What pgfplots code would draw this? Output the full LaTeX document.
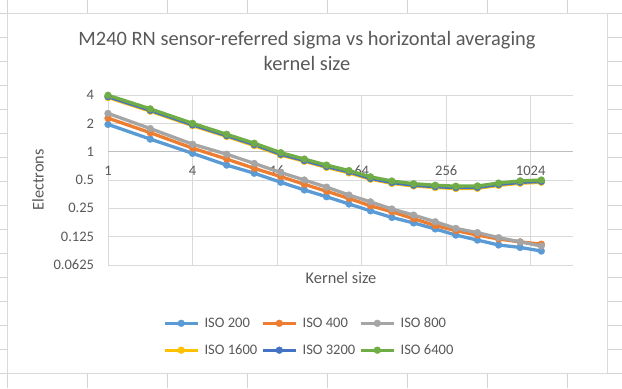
\documentclass[border=0pt]{standalone}
\usepackage{pgfplots}
\pgfplotsset{compat=1.18}
\usepackage{fontspec}
\setmainfont{Carlito}
\definecolor{txt}{HTML}{595959}
\definecolor{grd}{HTML}{D9D9D9}
\definecolor{cell}{HTML}{D4D4D4}
\definecolor{axl}{HTML}{BFBFBF}
\definecolor{c200}{HTML}{5B9BD5}
\definecolor{c400}{HTML}{ED7D31}
\definecolor{c800}{HTML}{A5A5A5}
\definecolor{c1600}{HTML}{FFC000}
\definecolor{c3200}{HTML}{4472C4}
\definecolor{c6400}{HTML}{70AD47}
\begin{document}
\begin{tikzpicture}[x=1bp,y=1bp]
\path[use as bounding box] (0,0) rectangle (622,388);
\fill[white] (0,0) rectangle (622,388);
\foreach \cx in {7.3,87.35,167.4,247.45,327.5,407.55,487.6,567.65} \draw[cell,line width=1bp] (\cx,0) -- (\cx,388);
\foreach \k in {0,...,15} \draw[cell,line width=1bp] (0,{374.7-24*\k}) -- (622,{374.7-24*\k});
\filldraw[fill=white,draw=grd,line width=1bp] (7.3,374.7) rectangle (607.3,14.7);
\node[anchor=base,text=txt,font=\fontsize{20.5}{24}\selectfont] at (307,343) {M240 RN sensor-referred sigma vs horizontal averaging};
\node[anchor=base,text=txt,font=\fontsize{20.5}{24}\selectfont] at (307,318) {kernel size};
\node[anchor=base,text=txt,font=\fontsize{16.4}{19}\selectfont] at (341,104.7) {Kernel size};
\node[anchor=base,rotate=90,text=txt,font=\fontsize{16.4}{19}\selectfont] at (43.5,208) {Electrons};
\begin{axis}[
 at={(108bp,123bp)}, anchor=south west, scale only axis, width=465bp, height=170bp,
 xmode=log, ymode=log, log basis x=2, log basis y=2,
 xmin=1, xmax=2048, ymin=0.0625, ymax=4,
 xtick={1,4,16,64,256,1024}, xticklabels={1,4,16,64,256,1024},
 ytick={0.0625,0.125,0.25,0.5,1,2,4}, yticklabels={0.0625,0.125,0.25,0.5,1,2,4},
 xmajorgrids, ymajorgrids, grid style={grd, line width=1bp},
 axis line style={draw=none}, major tick length=0pt, minor tick num=0,
 tick label style={font=\fontsize{14.6}{16}\selectfont, text=txt, inner sep=0pt},
 xticklabel style={anchor=north, yshift=99.3bp},
 yticklabel style={anchor=east, xshift=-13.7bp},
 clip=false,
 legend columns=3,
 legend style={at={(0.4308,-0.4218)}, anchor=center, draw=none, fill=none,
   font=\fontsize{14.6}{16}\selectfont, text=txt, legend cell align=left,
   nodes={inner sep=0pt}, row sep=15.5bp,
   /tikz/every odd column/.style={column sep=5.3bp},
   /tikz/every even column/.style={column sep=4bp}},
 legend image code/.code={\draw[mark repeat=2,mark phase=2,#1] plot coordinates {(0bp,0bp) (16.35bp,0bp) (32.7bp,0bp)};},
 every axis plot/.append style={line width=3.3bp, mark=*, mark size=3.4bp},
]
\draw[axl, line width=1bp] (axis cs:1,1) -- (axis cs:2048,1);
\addplot[color=c200, mark options={solid, fill=c200, line width=0.4bp}] coordinates {
(1,1.95) (2,1.36) (4,0.96) (7,0.72) (11,0.59) (17,0.473) (25,0.392) (36,0.332) (52,0.278) (74,0.235) (105,0.200) (150,0.175) (214,0.151) (300,0.130) (427,0.115) (605,0.102) (861,0.096) (1218,0.088)};
\addlegendentry{ISO 200}
\addplot[color=c400, mark options={solid, fill=c400, line width=0.4bp}] coordinates {
(1,2.27) (2,1.59) (4,1.09) (7,0.835) (11,0.665) (17,0.543) (25,0.45) (36,0.38) (52,0.318) (74,0.266) (105,0.23) (150,0.194) (214,0.164) (300,0.145) (427,0.130) (605,0.118) (861,0.110) (1218,0.104)};
\addlegendentry{ISO 400}
\addplot[color=c800, mark options={solid, fill=c800, line width=0.4bp}] coordinates {
(1,2.55) (2,1.76) (4,1.2) (7,0.94) (11,0.75) (17,0.6) (25,0.5) (36,0.42) (52,0.346) (74,0.293) (105,0.246) (150,0.212) (214,0.18) (300,0.153) (427,0.138) (605,0.122) (861,0.110) (1218,0.0995)};
\addlegendentry{ISO 800}
\addplot[color=c1600, mark options={solid, fill=c1600, line width=0.4bp}] coordinates {
(1,3.76) (2,2.69) (4,1.89) (7,1.45) (11,1.16) (17,0.92) (25,0.79) (36,0.68) (52,0.595) (74,0.51) (105,0.46) (150,0.432) (214,0.416) (300,0.406) (427,0.408) (605,0.438) (861,0.462) (1218,0.473)};
\addlegendentry{ISO 1600}
\addplot[color=c3200, mark options={solid, fill=c3200, line width=0.4bp}] coordinates {
(1,3.84) (2,2.75) (4,1.93) (7,1.48) (11,1.19) (17,0.94) (25,0.805) (36,0.695) (52,0.61) (74,0.52) (105,0.47) (150,0.44) (214,0.425) (300,0.415) (427,0.417) (605,0.448) (861,0.472) (1218,0.483)};
\addlegendentry{ISO 3200}
\addplot[color=c6400, mark options={solid, fill=c6400, line width=0.4bp}] coordinates {
(1,3.98) (2,2.85) (4,2.00) (7,1.53) (11,1.23) (17,0.976) (25,0.835) (36,0.72) (52,0.63) (74,0.54) (105,0.488) (150,0.457) (214,0.44) (300,0.43) (427,0.432) (605,0.464) (861,0.489) (1218,0.50)};
\addlegendentry{ISO 6400}
\end{axis}
\end{tikzpicture}
\end{document}
